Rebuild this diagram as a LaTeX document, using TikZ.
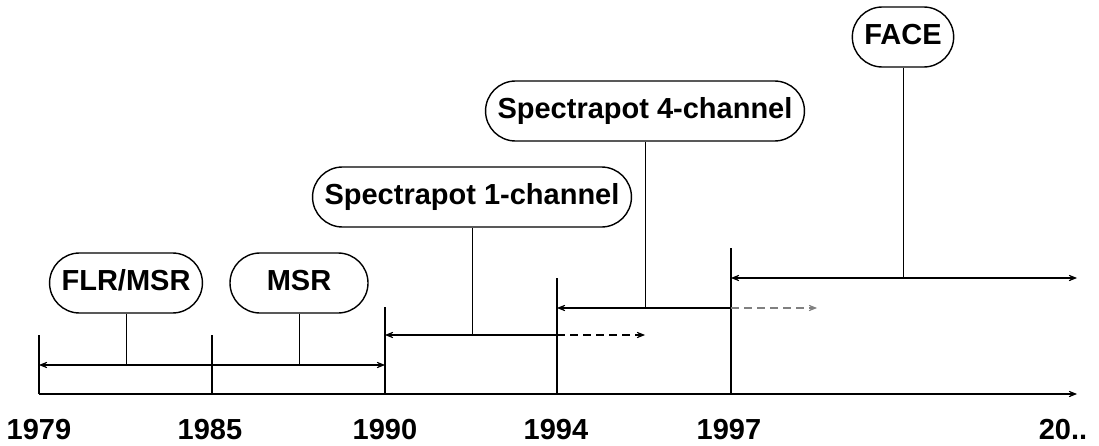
\documentclass[tikz,border=0pt]{standalone}
\usepackage{fontspec}
\setmainfont{Liberation Sans}
\usetikzlibrary{arrows.meta}

\begin{document}
\begin{tikzpicture}[x=0.5pt,y=-0.5pt,>={Stealth[length=8pt,width=6.5pt,inset=6pt]},
  every node/.style={font=\fontsize{14.5}{17}\selectfont\bfseries},
  box/.style={draw,line width=0.7pt,rounded corners=15pt,minimum height=30pt,inner xsep=6pt,inner ysep=0pt,
    text height=0.72em,text depth=0pt},
  axisline/.style={line width=0.8pt},
  stem/.style={line width=0.5pt},
  later/.style={line width=0.8pt,dash pattern=on 4pt off 2.5pt}]
\useasboundingbox (0,0) rectangle (1099,445);
% time axis and ticks
\coordinate (b79) at (39,394);  \coordinate (t79) at (39,335);
\coordinate (b85) at (212,394); \coordinate (t85) at (212,335);
\coordinate (b90) at (385,394); \coordinate (t90) at (385,307);
\coordinate (b94) at (557,394); \coordinate (t94) at (557,278);
\coordinate (b97) at (731,394); \coordinate (t97) at (731,248);
\coordinate (end) at (1077,394);
\draw[axisline,->] (b79) -- (end);
\draw[axisline] (b79) -- (t79) (b85) -- (t85) (b90) -- (t90) (b94) -- (t94) (b97) -- (t97);
\node (y79) at (39,430) {1979};
\node (y85) at (210,430) {1985};
\node (y90) at (385,430) {1990};
\node (y94) at (556,430) {1994};
\node (y97) at (729,430) {1997};
\node (y20) at (1063,430) {20..};
% periods
\coordinate (a1l) at (39,365);  \coordinate (a1r) at (385,365);
\coordinate (a2l) at (385,335); \coordinate (a2m) at (557,335); \coordinate (a2r) at (645,335);
\coordinate (a3l) at (557,308); \coordinate (a3m) at (731,308); \coordinate (a3r) at (817,308);
\coordinate (a4l) at (731,278); \coordinate (a4r) at (1077,278);
\draw[axisline,<->] (a1l) -- (a1r);
\draw[axisline,<-] (a2l) -- (a2m); \draw[later,->] (a2m) -- (a2r);
\draw[axisline,<-] (a3l) -- (a3m); \draw[later,gray,->] (a3m) -- (a3r);
\draw[axisline,<->] (a4l) -- (a4r);
% instruments
\node[box] (flr) at (126,283) {FLR/MSR};
\node[box,minimum width=69pt] (msr) at (299,283) {MSR};
\node[box] (sp1) at (472,197) {Spectrapot 1-channel};
\node[box] (sp4) at (645,111) {Spectrapot 4-channel};
\node[box] (face) at (903,37) {FACE};
\draw[stem] (flr) -- (flr |- a1l); \draw[stem] (msr) -- (msr |- a1l);
\draw[stem] (sp1) -- (sp1 |- a2l); \draw[stem] (sp4) -- (sp4 |- a3l);
\draw[stem] (face) -- (face |- a4l);
\end{tikzpicture}
\end{document}
